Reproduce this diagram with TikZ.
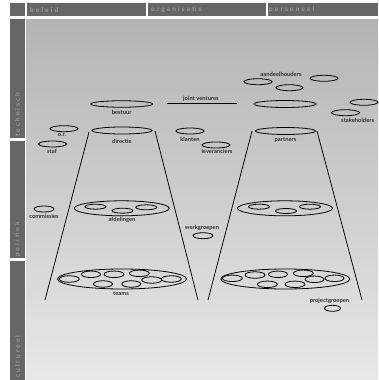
\documentclass[tikz,border=0pt]{standalone}
\usepackage{fontspec}
\setmainfont{Lato}
\newfontfamily\hdrfont[LetterSpace=32]{Lato}
\usetikzlibrary{shapes.geometric}
\definecolor{hdrgray}{HTML}{666666}
\definecolor{hdrtext}{HTML}{9A9A9A}
\definecolor{lblgray}{HTML}{2E2E2E}
\definecolor{bgtop}{HTML}{B4B4B4}
\definecolor{bgbot}{HTML}{E8E8E8}
\begin{document}
\begin{tikzpicture}[x=1pt,y=-1pt,
  ell/.style={draw=black,line width=0.8pt,ellipse,inner sep=0pt},
  lbl/.style={font=\fontsize{5.8}{6.5}\selectfont\bfseries,text=lblgray,inner sep=0pt},
  hdr/.style={font=\fontsize{6.5}{7.5}\selectfont\hdrfont\bfseries,text=hdrtext,inner sep=0pt},
  ln/.style={line width=0.75pt,draw=black}]
\useasboundingbox (0,0) rectangle (378,380);
\fill[white] (0,0) rectangle (378,380);
% header row
\fill[hdrgray] (10,3) rectangle (25,16);
\fill[hdrgray] (27,3) rectangle (146,16);
\fill[hdrgray] (148,3) rectangle (266,16);
\fill[hdrgray] (268,3) rectangle (378,16);
\node[hdr,anchor=west] (hbeleid) at (30,10) {beleid};
\node[hdr,anchor=west] (horg) at (151,10) {organisatie};
\node[hdr,anchor=west] (hpers) at (269,10) {personeel};
% left column
\fill[hdrgray] (10,19) rectangle (25,138);
\fill[hdrgray] (10,141) rectangle (25,258);
\fill[hdrgray] (10,261) rectangle (25,380);
\node[hdr,rotate=90,anchor=west] (ltech) at (17.5,137) {technisch};
\node[hdr,rotate=90,anchor=west] (lpol) at (17.5,257) {politiek};
\node[hdr,rotate=90,anchor=west] (lcult) at (17.5,378) {cultureel};
% main area
\shade[top color=bgtop,bottom color=bgbot] (26,19) rectangle (378,380);
% trapezoid lines
\coordinate (lTL) at (89,132);
\coordinate (lBL) at (45,300);
\coordinate (lTR) at (155,131);
\coordinate (lBR) at (198,300);
\coordinate (rTL) at (252,131);
\coordinate (rBL) at (208,300);
\coordinate (rTR) at (317,131);
\coordinate (rBR) at (362,300);
\draw[ln] (lTL) -- (lBL);
\draw[ln] (lTR) -- (lBR);
\draw[ln] (rTL) -- (rBL);
\draw[ln] (rTR) -- (rBR);
% joint ventures
\coordinate (jvL) at (167,103.3);
\coordinate (jvR) at (237,103.3);
\draw[ln] (jvL) -- (jvR);
\node[lbl] (jv) at (201,98.5) {joint ventures};
% top ellipses
\node[ell,minimum width=62pt,minimum height=6.5pt] (bestuur) at (121.7,104) {};
\node[lbl] (bestuurL) at (121.7,112) {bestuur};
\node[ell,minimum width=60pt,minimum height=7pt] (directie) at (122,130.5) {};
\node[lbl] (directieL) at (122,141) {directie};
\node[ell,minimum width=60pt,minimum height=7pt] (partners) at (285.5,131) {};
\node[lbl] (partnersL) at (285.5,140) {partners};
\node[ell,minimum width=62pt,minimum height=7pt] (bigR) at (285,104) {};
\node[ell,minimum width=28pt,minimum height=6pt] (ah1) at (258,81.7) {};
\node[ell,minimum width=28pt,minimum height=6pt] (ah2) at (324,78.3) {};
\node[ell,minimum width=27pt,minimum height=6pt] (ah3) at (289.5,87.7) {};
\node[lbl] (ahL) at (281,74) {aandeelhouders};
\node[ell,minimum width=28pt,minimum height=6pt] (sh1) at (345.5,112.7) {};
\node[ell,minimum width=28pt,minimum height=6pt] (sh2) at (364,102.3) {};
\node[lbl,anchor=west] (shL) at (341,120) {stakeholders};
\node[ell,minimum width=28pt,minimum height=6pt] (klanten) at (190,131) {};
\node[lbl] (klantenL) at (190,139.3) {klanten};
\node[ell,minimum width=28pt,minimum height=6pt] (lev) at (216,145) {};
\node[lbl] (levL) at (217,151.5) {leveranciers};
\node[ell,minimum width=28pt,minimum height=6pt] (or) at (64,128.7) {};
\node[lbl] (orL) at (62,135.5) {o.r.};
\node[ell,minimum width=28pt,minimum height=6pt] (staf) at (52.5,144) {};
\node[lbl] (stafL) at (52,151.7) {staf};
% middle
\node[ell,minimum width=20pt,minimum height=6pt] (comm) at (44,209) {};
\node[lbl] (commL) at (44,216) {commissies};
\node[ell,minimum width=95pt,minimum height=15pt] (afd) at (121.7,208.3) {};
\node[ell,minimum width=21pt,minimum height=5pt] (afd1) at (95.5,206.7) {};
\node[ell,minimum width=21pt,minimum height=5pt] (afd2) at (122.5,210.7) {};
\node[ell,minimum width=21pt,minimum height=5pt] (afd3) at (146.3,207.3) {};
\node[lbl] (afdL) at (122,220) {afdelingen};
\node[lbl] (wgL) at (202,227.7) {werkgroepen};
\node[ell,minimum width=20pt,minimum height=6pt] (wg) at (203,235.7) {};
\node[ell,minimum width=95pt,minimum height=15pt] (rmid) at (285,208.3) {};
\node[ell,minimum width=21pt,minimum height=5pt] (rm1) at (259,206.7) {};
\node[ell,minimum width=21pt,minimum height=5pt] (rm2) at (286,211) {};
\node[ell,minimum width=21pt,minimum height=5pt] (rm3) at (310,206.7) {};
% lower left (teams)
\node[ell,minimum width=129pt,minimum height=20pt] (teams) at (122,279) {};
\node[ell,minimum width=20pt,minimum height=6.5pt] (t1) at (69.3,279) {};
\node[ell,minimum width=19pt,minimum height=6.5pt] (t2) at (91,274.3) {};
\node[ell,minimum width=20pt,minimum height=6.5pt] (t3) at (114,274.3) {};
\node[ell,minimum width=20pt,minimum height=6.5pt] (t4) at (139.3,273.3) {};
\node[ell,minimum width=20pt,minimum height=6.5pt] (t5) at (151.7,280) {};
\node[ell,minimum width=20pt,minimum height=6.5pt] (t6) at (171.3,279) {};
\node[ell,minimum width=19pt,minimum height=6.5pt] (t7) at (103,284) {};
\node[ell,minimum width=19pt,minimum height=6.5pt] (t8) at (131.3,284) {};
\node[lbl] (teamsL) at (121,293.3) {teams};
% lower right
\node[ell,minimum width=129pt,minimum height=20pt] (rlow) at (285.3,279) {};
\node[ell,minimum width=20pt,minimum height=6.5pt] (p1) at (232.3,278.3) {};
\node[ell,minimum width=20pt,minimum height=6.5pt] (p2) at (255,275) {};
\node[ell,minimum width=19pt,minimum height=6.5pt] (p3) at (278,274.3) {};
\node[ell,minimum width=20pt,minimum height=6.5pt] (p4) at (303.3,273.3) {};
\node[ell,minimum width=19pt,minimum height=6.5pt] (p5) at (314.5,279.3) {};
\node[ell,minimum width=19pt,minimum height=6.5pt] (p6) at (334.5,278.3) {};
\node[ell,minimum width=20pt,minimum height=6.5pt] (p7) at (267.3,284.3) {};
\node[ell,minimum width=20pt,minimum height=6.5pt] (p8) at (295,284.3) {};
\node[lbl] (pgL) at (329.5,300.7) {projectgroepen};
\node[ell,minimum width=16pt,minimum height=6pt] (pg) at (332.5,308.3) {};
\end{tikzpicture}
\end{document}
